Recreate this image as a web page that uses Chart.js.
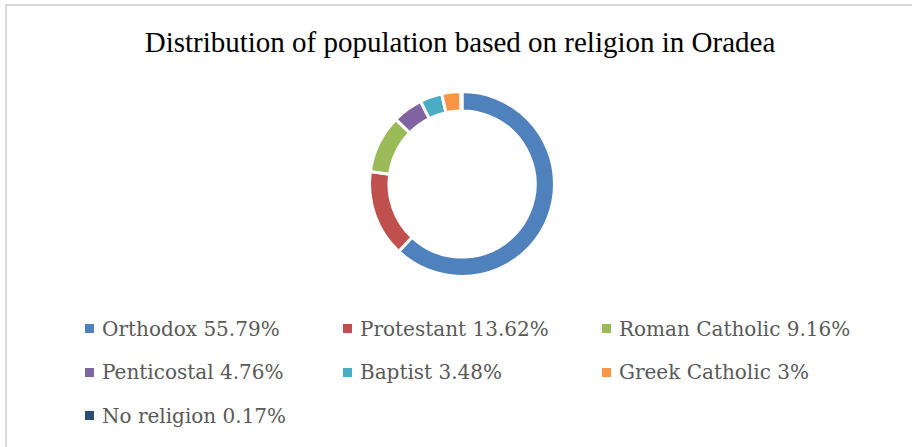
<!DOCTYPE html>
<html>
<head>
<meta charset="utf-8">
<script src="https://cdn.jsdelivr.net/npm/chart.js@4"></script>
<style>
    html, body { margin: 0; padding: 0; background: #fff; }
    #page { position: relative; width: 912px; height: 447px; overflow: hidden; }
    #frame { position: absolute; left: 5px; top: 4px; width: 1000px; height: 1000px; border: 2px solid #d9d9d9; }
    #title { position: absolute; left: 0; top: 26px; width: 920px; text-align: center;
        font-family: 'Liberation Serif', serif; font-size: 29px; color: #000; }
    #wrap { position: absolute; left: 12px; top: 90px; width: 900px; height: 188px; }
    #legend { position: absolute; left: 85px; top: 307px; display: grid;
        grid-template-columns: 258px 259px 260px; grid-auto-rows: 43.5px;
        font-family: 'DejaVu Serif', serif; font-size: 20px; color: #595959; }
    #legend .item { display: flex; align-items: center; white-space: nowrap; }
    #legend .box { width: 9px; height: 9px; margin-right: 8px; }
</style>
</head>
<body>
<div id="page">
    <div id="frame"></div>
    <div id="title">Distribution of population based on religion in Oradea</div>
    <div id="wrap"><canvas id="chart"></canvas></div>
    <div id="legend"></div>
</div>
<script>
const LABELS = ['Orthodox', 'Protestant', 'Roman Catholic', 'Penticostal', 'Baptist', 'Greek Catholic', 'No religion'];
const VALUES = [55.79, 13.62, 9.16, 4.76, 3.48, 3, 0.17];
const COLORS = ['#4f81bd', '#c0504d', '#9bbb59', '#8064a2', '#4bacc6', '#f79646', '#2c4d75'];

const legend = document.getElementById('legend');
LABELS.forEach((label, i) => {
    const item = document.createElement('div');
    item.className = 'item';
    item.innerHTML = '<span class="box" style="background:' + COLORS[i] + '"></span>' + label + ' ' + VALUES[i] + '%';
    legend.appendChild(item);
});

new Chart(document.getElementById('chart'), {
    type: 'doughnut',
    data: {
        labels: LABELS,
        datasets: [{
            data: VALUES,
            backgroundColor: COLORS,
            borderColor: '#ffffff',
            borderWidth: 3,
        }],
    },
    options: {
        responsive: true,
        maintainAspectRatio: false,
        animation: false,
        cutout: '79%',
        layout: { padding: 0 },
        plugins: {
            legend: { display: false },
            tooltip: { enabled: false },
        },
    },
});
</script>
</body>
</html>
